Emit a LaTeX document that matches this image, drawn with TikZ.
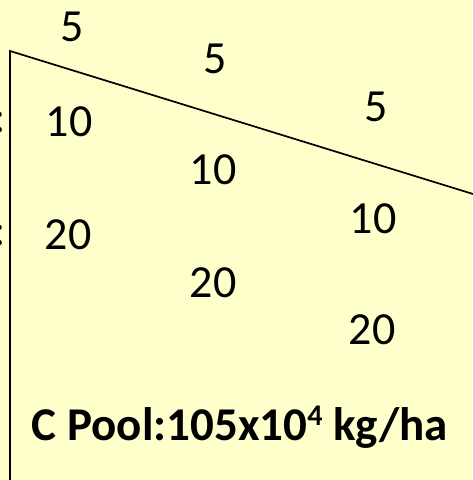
\documentclass[tikz,border=0pt]{standalone}
\usepackage{fontspec}
\setmainfont{Carlito}
\usepackage{tikz}
\usetikzlibrary{positioning}
\definecolor{cpPaper}{HTML}{FFFFCC}
\definecolor{cpInk}{HTML}{000000}
\newcommand{\cpsup}[1]{\raisebox{0.33em}{\fontsize{30}{30}\selectfont\bfseries #1}}

\begin{document}
\begin{tikzpicture}[x=1pt,y=-1pt,
  num/.style={text=cpInk,inner sep=0pt,font=\fontsize{46}{50}\selectfont},
  pool/.style={text=cpInk,inner sep=0pt,font=\fontsize{47}{52}\selectfont\bfseries},
  edge/.style={draw=cpInk,line width=1.7pt}]
\useasboundingbox[fill=cpPaper] (0,0) rectangle (472,480);
\coordinate (top) at (10,51);
\coordinate (bot) at (10,481);
\coordinate (far) at (473,194);
\draw[edge] (bot) -- (top) -- (far);
% depth labels along the slope
\node[num] (a5) at (72,27) {5};
\node[num] (b5) at (215,59) {5};
\node[num] (c5) at (376,107) {5};
\node[num] (a10) at (69,122) {10};
\node[num] (b10) at (213,170) {10};
\node[num] (c10) at (373,219) {10};
\node[num] (a20) at (68,235) {20};
\node[num] (b20) at (213,283) {20};
\node[num] (c20) at (372,330) {20};
\node[num] (k1) at (0,122) {:};
\node[num] (k2) at (0,235) {:};
\node[pool] (cpool) at (240,427) {C Pool:105x10\cpsup{4} kg/ha};
\end{tikzpicture}
\end{document}
